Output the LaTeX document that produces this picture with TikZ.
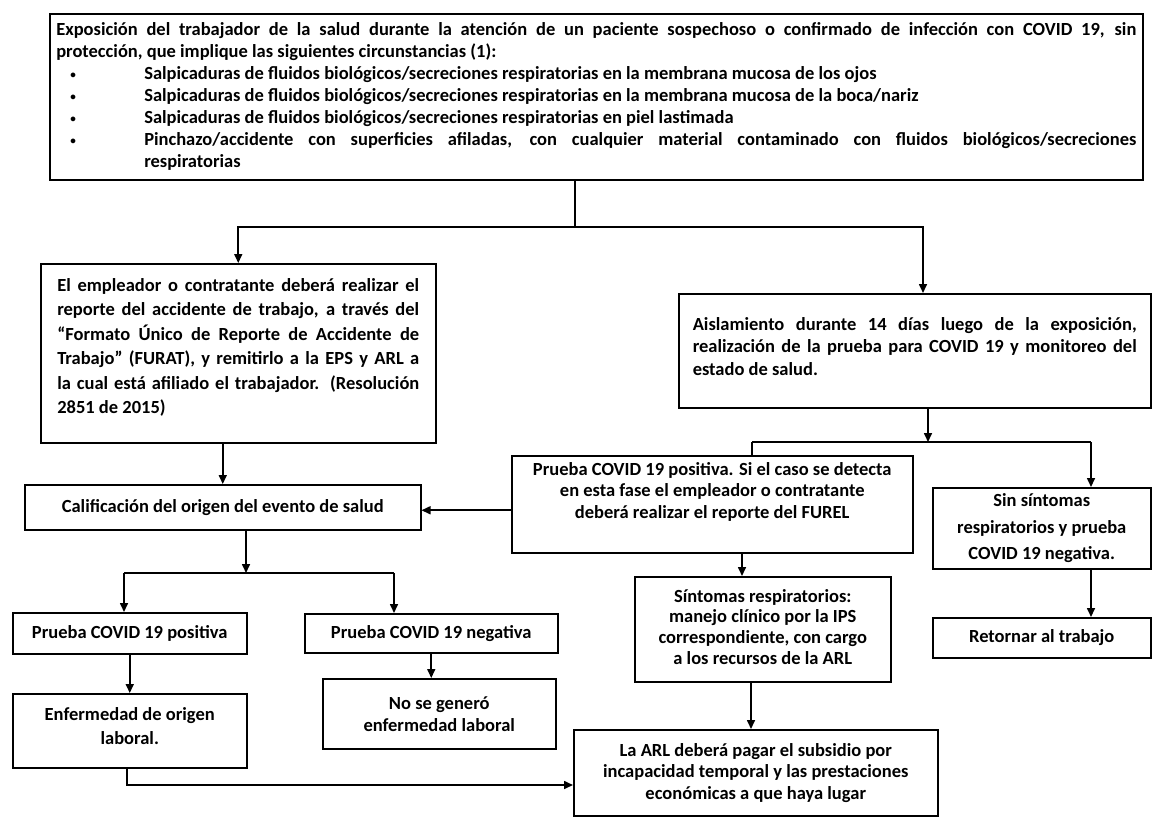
\documentclass[tikz,border=0pt]{standalone}
\usepackage{fontspec}
\setmainfont{Carlito}
\usetikzlibrary{arrows.meta,calc}
\tikzset{
  box/.style={draw, line width=1.5pt, inner ysep=0pt, inner xsep=0pt, anchor=north west},
  conn/.style={line width=1.6pt},
  arr/.style={line width=1.6pt, -{Triangle[length=9pt,width=8pt]}},
}
\newcommand{\fs}[1]{\fontsize{18.5}{#1}\selectfont\bfseries\tolerance=10000\emergencystretch=2em}
\newcommand{\bul}{\noindent\hangindent=88pt\hangafter=1\makebox[88pt][l]{\hspace{14pt}\raisebox{1.5pt}{\scalebox{0.6}{\textbullet}}}}
\begin{document}
\begin{tikzpicture}[x=1pt,y=-1pt]
\fill[white] (0,0) rectangle (1162,817);
\useasboundingbox (0,0) rectangle (1162,817);

% boxes
\node[box, minimum width=1093pt, minimum height=166pt] (top) at (49,13)
 {\parbox[c][166pt][c]{1080pt}{\fs{22}Exposición del trabajador de la salud durante la atención de un paciente sospechoso o confirmado de infección con COVID 19, sin\linebreak protección, que implique las siguientes circunstancias (1):\par
 \bul Salpicaduras de fluidos biológicos/secreciones respiratorias en la membrana mucosa de los ojos\par
 \bul Salpicaduras de fluidos biológicos/secreciones respiratorias en la membrana mucosa de la boca/nariz\par
 \bul Salpicaduras de fluidos biológicos/secreciones respiratorias en piel lastimada\par
 \bul Pinchazo/accidente con superficies afiladas, con cualquier material contaminado con fluidos biológicos/secreciones\linebreak respiratorias\par}};

\node[box, minimum width=395pt, minimum height=179pt] (left) at (40,263)
 {\parbox[c][179pt][c]{362pt}{\fs{24.5}El empleador o contratante deberá realizar el\linebreak reporte del accidente de trabajo, a través del\linebreak “Formato Único de Reporte de Accidente de\linebreak Trabajo” (FURAT), y remitirlo a la EPS y ARL a\linebreak la cual está afiliado el trabajador. (Resolución\linebreak 2851 de 2015)\par\vspace*{12pt}}};

\node[box, minimum width=472pt, minimum height=114pt] (ais) at (678,293)
 {\parbox[c][114pt][c]{444pt}{\fs{22.5}Aislamiento durante 14 días luego de la exposición,\linebreak realización de la prueba para COVID 19 y monitoreo del\linebreak estado de salud.\par\vspace*{9pt}}};

\node[box, minimum width=396pt, minimum height=45pt] (cal) at (24,484)
 {\parbox[c][45pt][c]{380pt}{\fs{22}\centering Calificación del origen del evento de salud\par}};

\node[box, minimum width=401pt, minimum height=97pt] (furel) at (511,455)
 {\parbox[c][97pt][c]{390pt}{\fs{21.5}\centering Prueba COVID 19 positiva. Si el caso se detecta\\ en esta fase el empleador o contratante\\ deberá realizar el reporte del FUREL\par\vspace*{25pt}}};

\node[box, minimum width=218pt, minimum height=81pt] (sin) at (932,487)
 {\parbox[c][81pt][c]{210pt}{\fs{26.5}\centering Sin síntomas\\ respiratorios y prueba\\ COVID 19 negativa.\par}};

\node[box, minimum width=218pt, minimum height=40pt] (ret) at (932,617)
 {\parbox[c][40pt][c]{210pt}{\fs{22}\centering Retornar al trabajo\par}};

\node[box, minimum width=256pt, minimum height=105pt] (sint) at (634,576)
 {\parbox[c][105pt][c]{248pt}{\fs{20.7}\centering Síntomas respiratorios:\\ manejo clínico por la IPS\\ correspondiente, con cargo\\ a los recursos de la ARL\par\vspace*{5pt}}};

\node[box, minimum width=364pt, minimum height=86pt] (arl) at (573,729)
 {\parbox[c][86pt][c]{356pt}{\fs{21.5}\centering La ARL deberá pagar el subsidio por\\ incapacidad temporal y las prestaciones\\ económicas a que haya lugar\par}};

\node[box, minimum width=234pt, minimum height=41pt] (pp) at (12,612)
 {\parbox[c][41pt][c]{226pt}{\fs{22}\centering Prueba COVID 19 positiva\par}};

\node[box, minimum width=253pt, minimum height=39pt] (pn) at (304,613)
 {\parbox[c][39pt][c]{245pt}{\fs{22}\centering Prueba COVID 19 negativa\par}};

\node[box, minimum width=234pt, minimum height=74pt] (enf) at (12,693)
 {\parbox[c][74pt][c]{226pt}{\fs{24}\centering Enfermedad de origen\\ laboral.\par\vspace*{10pt}}};

\node[box, minimum width=233pt, minimum height=70pt] (nsg) at (322,678)
 {\parbox[c][70pt][c]{225pt}{\fs{22}\centering No se generó\\ enfermedad laboral\par}};

% junction coordinates
\coordinate (j1) at (575,227);
\coordinate (aisin) at (923,293);
\coordinate (calin) at ([yshift=-3pt]cal.east);
\coordinate (b1) at (246,573);
\coordinate (b1l) at (124,573);
\coordinate (b1r) at (394,573);
\coordinate (e1) at (127,785);
\coordinate (b2) at (928,442);
\coordinate (b2l) at (752,442);
\coordinate (b2r) at (1091,442);
\coordinate (f1) at (742,560);
\coordinate (s1) at (751,700);

% connectors
\draw[conn] (top.south -| j1) -- (j1);
\draw[arr] (j1) -| (left.north);
\draw[arr] (j1) -| (aisin);
\draw[arr] (left.south -| cal.north) -- (cal.north);
\draw[arr] (furel.west |- calin) -- (calin);
\draw[arr] (cal.south -| b1) -- (b1);
\draw[conn] (b1l) -- (b1r);
\draw[arr] (b1l) -- (b1l |- pp.north);
\draw[arr] (b1r) -- (b1r |- pn.north);
\draw[arr] (pp.south) -- (pp.south |- enf.north);
\draw[arr] (pn.south) -- (pn.south |- nsg.north);
\draw[arr] (enf.south -| e1) -- (e1) -- (e1 -| arl.west);
\draw[arr] (ais.south -| b2) -- (b2);
\draw[conn] (b2l) -- (b2r);
\draw[conn] (b2l) -- (b2l |- furel.north);
\draw[arr] (b2r) -- (b2r |- sin.north);
\draw[arr] (furel.south -| f1) -- (f1 |- sint.north);
\draw[arr] (sint.south -| s1) -- (s1 |- arl.north);
\draw[arr] (sin.south -| b2r) -- (b2r |- ret.north);
\end{tikzpicture}
\end{document}
